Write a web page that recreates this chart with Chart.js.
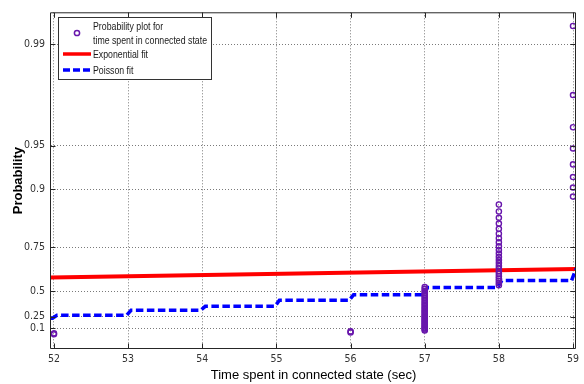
<!DOCTYPE html>
<html>
<head>
<meta charset="utf-8">
<script src="https://cdn.jsdelivr.net/npm/chart.js@4"></script>
<style>
  html, body { margin: 0; padding: 0; background: #fff; }
</style>
</head>
<body>
<canvas id="probChart" width="584" height="384"></canvas>
<script>
// axis ticks
const xTicks = [52, 53, 54, 55, 56, 57, 58, 59];
const yTickLabels = [0.1, 0.25, 0.5, 0.75, 0.9, 0.95, 0.99];
const xMin = 51.96, xMax = 59.04;

// observed times and their plotting probabilities
const obsTimes = [52, 56, 57, 58, 59];
const obsProbs = [
  [0.0075, 0.0224],
  [0.0373, 0.0522],
  [0.0672, 0.0821, 0.0970, 0.1119, 0.1269, 0.1418, 0.1567, 0.1716, 0.1866, 0.2015,
   0.2164, 0.2313, 0.2463, 0.2612, 0.2761, 0.2910, 0.3060, 0.3209, 0.3358, 0.3507,
   0.3657, 0.3806, 0.3955, 0.4104, 0.4254, 0.4403, 0.4552, 0.4701, 0.4851, 0.5000,
   0.5149, 0.5299],
  [0.5448, 0.5597, 0.5746, 0.5896, 0.6045, 0.6194, 0.6343, 0.6493, 0.6642, 0.6791,
   0.6940, 0.7090, 0.7239, 0.7388, 0.7537, 0.7687, 0.7836, 0.7985, 0.8134, 0.8284,
   0.8433, 0.8582, 0.8731],
  [0.8881, 0.9030, 0.9179, 0.9328, 0.9478, 0.9627, 0.9776, 0.9925]
];

// exponential fit (straight line on this paper)
const expFitX = [51.96, 59.04];
const expFitP = [0.596, 0.648];

// poisson fit: cdf level from each x onward
const poissonX = [51.96, 52, 53, 54, 55, 56, 57, 58, 59];
const poissonP = [0.231, 0.267, 0.322, 0.363, 0.421, 0.469, 0.528, 0.577, 0.650];

const purple = "rgb(104, 22, 172)";
const axisFont = '"Liberation Sans Narrow", "DejaVu Sans Condensed", Arial, sans-serif';

// exponential probability paper
const toQ = p => -Math.log(1 - p);

const scatterPts = [];
obsTimes.forEach((t, i) => obsProbs[i].forEach(p => scatterPts.push({ x: t, y: toQ(p) })));

const expPts = expFitX.map((x, i) => ({ x: x, y: toQ(expFitP[i]) }));

const poisPts = [{ x: poissonX[0], y: toQ(poissonP[0]) }];
for (let i = 1; i < poissonX.length; i++) {
  poisPts.push({ x: poissonX[i] - 0.02, y: toQ(poissonP[i - 1]) });
  poisPts.push({ x: poissonX[i] + 0.04, y: toQ(poissonP[i]) });
}
poisPts.push({ x: xMax, y: toQ(poissonP[poissonP.length - 1]) });

// box round the axes with inward ticks
const frame = {
  id: "frame",
  afterDatasetsDraw(chart) {
    const { ctx, chartArea: a, scales: { x, y } } = chart;
    const L = a.left - 0.5, R = a.right - 0.5, T = a.top + 0.5, B = a.bottom - 0.5;
    ctx.save();
    ctx.strokeStyle = "#262626";
    ctx.lineWidth = 1;
    ctx.beginPath();
    ctx.rect(L, T, R - L, B - T);
    xTicks.forEach(v => {
      const px = Math.round(x.getPixelForValue(v)) + 0.5;
      ctx.moveTo(px, B); ctx.lineTo(px, B - 5);
      ctx.moveTo(px, T); ctx.lineTo(px, T + 5);
    });
    yTickLabels.forEach(p => {
      const py = Math.round(y.getPixelForValue(toQ(p))) + 0.5;
      ctx.moveTo(L, py); ctx.lineTo(L + 5, py);
      ctx.moveTo(R, py); ctx.lineTo(R - 5, py);
    });
    ctx.stroke();
    ctx.restore();
  }
};

// legend box in the top left corner
const legendBox = {
  id: "legendBox",
  afterDraw(chart) {
    const ctx = chart.ctx;
    const ds = chart.data.datasets;
    ctx.save();
    ctx.fillStyle = "#fff";
    ctx.fillRect(58.5, 17.5, 153, 62);
    ctx.strokeStyle = "#333";
    ctx.lineWidth = 1;
    ctx.strokeRect(58.5, 17.5, 153, 62);

    ctx.beginPath();
    ctx.arc(77, 33, 2.6, 0, Math.PI * 2);
    ctx.strokeStyle = purple;
    ctx.lineWidth = 1.5;
    ctx.stroke();

    ctx.beginPath();
    ctx.moveTo(63, 54); ctx.lineTo(91, 54);
    ctx.strokeStyle = "#ff0000";
    ctx.lineWidth = 3.5;
    ctx.stroke();

    ctx.beginPath();
    ctx.setLineDash([7, 3]);
    ctx.moveTo(63, 70); ctx.lineTo(91, 70);
    ctx.strokeStyle = "#0000ff";
    ctx.lineWidth = 3.5;
    ctx.stroke();
    ctx.setLineDash([]);

    // narrow the text so the longest line fits the box like the original
    ctx.font = "11px 'Liberation Sans', Arial, sans-serif";
    ctx.fillStyle = "#1a1a1a";
    ctx.textBaseline = "middle";
    const lines = ds[0].label.split("\n");
    const k = 114 / ctx.measureText(lines[1]).width;
    ctx.translate(93, 0);
    ctx.scale(k, 1);
    ctx.fillText(lines[0], 0, 27);
    ctx.fillText(lines[1], 0, 40.5);
    ctx.fillText(ds[1].label, 0, 55);
    ctx.fillText(ds[2].label, 0, 71);
    ctx.restore();
  }
};

new Chart(document.getElementById("probChart").getContext("2d"), {
  type: "scatter",
  data: {
    datasets: [
      {
        label: "Probability plot for\ntime spent in connected state",
        data: scatterPts,
        pointStyle: "circle",
        pointRadius: 2.6,
        pointBorderWidth: 1.4,
        borderColor: purple,
        backgroundColor: "rgba(0,0,0,0)",
        order: 1
      },
      {
        label: "Exponential fit",
        data: expPts,
        showLine: true,
        borderColor: "#ff0000",
        borderWidth: 4,
        pointRadius: 0,
        order: 3
      },
      {
        label: "Poisson fit",
        data: poisPts,
        showLine: true,
        borderColor: "#0000ff",
        borderWidth: 3.5,
        borderDash: [7.5, 3.5],
        pointRadius: 0,
        order: 2
      }
    ]
  },
  options: {
    responsive: false,
    animation: false,
    layout: { padding: { top: 10, right: 8, left: 0, bottom: 0 } },
    plugins: {
      legend: { display: false },
      tooltip: { enabled: false }
    },
    scales: {
      x: {
        type: "linear",
        min: xMin,
        max: xMax,
        afterBuildTicks: s => { s.ticks = xTicks.map(v => ({ value: v })); },
        afterFit: s => { s.height = 35; },
        grid: { color: "#7a7a7a", lineWidth: 1, drawTicks: false },
        border: { display: false, dash: [1, 2] },
        ticks: { padding: 4, color: "#333", font: { family: axisFont, size: 10.5 } },
        title: {
          display: true,
          text: "Time spent in connected state (sec)",
          color: "#000",
          font: { family: "Arial, 'Liberation Sans', sans-serif", size: 13 },
          padding: { top: 0, bottom: 1 }
        }
      },
      y: {
        type: "linear",
        min: -0.225,
        max: 5.11,
        afterBuildTicks: s => { s.ticks = yTickLabels.map(p => ({ value: toQ(p) })); },
        afterFit: s => { s.width = 51; },
        grid: { color: "#7a7a7a", lineWidth: 1, drawTicks: false },
        border: { display: false, dash: [1, 2] },
        ticks: {
          padding: 6,
          color: "#333",
          font: { family: axisFont, size: 10.5 },
          callback: (v, i) => String(yTickLabels[i])
        },
        title: {
          display: true,
          text: "Probability",
          color: "#000",
          font: { family: "Arial, 'Liberation Sans', sans-serif", size: 13, weight: "bold" },
          padding: { top: 11, bottom: 0 }
        }
      }
    }
  },
  plugins: [frame, legendBox]
});
</script>
</body>
</html>
